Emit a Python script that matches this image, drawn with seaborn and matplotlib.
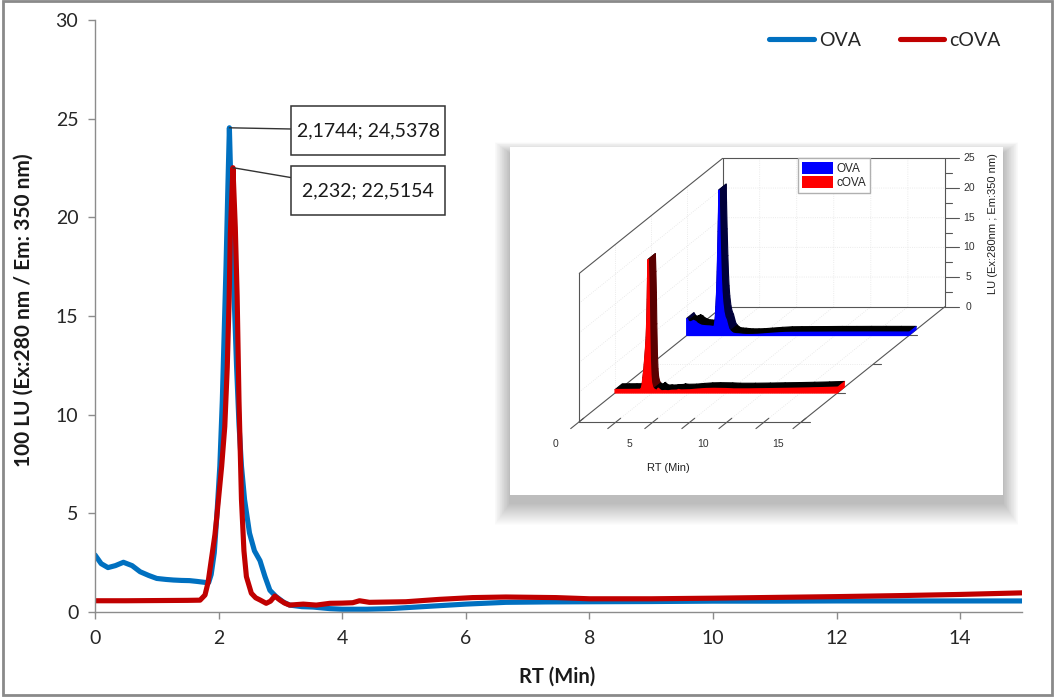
import numpy as np
import pandas as pd
import matplotlib
matplotlib.use("Agg")
import matplotlib.pyplot as plt
import seaborn as sns
from matplotlib.patches import Rectangle, Patch, Polygon
from matplotlib.collections import PolyCollection
from matplotlib.path import Path

# ---------------- data ----------------
rt_ova = [0.0, 0.1, 0.21, 0.33, 0.46, 0.6, 0.73, 0.87, 1.0, 1.15, 1.27, 1.4, 1.53, 1.65,
          1.78, 1.84, 1.88, 1.93, 1.97, 2.02, 2.06, 2.09, 2.12, 2.15, 2.1744, 2.2, 2.24,
          2.29, 2.33, 2.37, 2.42, 2.5, 2.58, 2.67, 2.75, 2.83, 2.93, 3.05, 3.15, 3.35,
          3.53, 3.8, 4.0, 4.4, 4.77, 5.3, 6.0, 6.65, 7.3, 8.0, 9.0, 10.0, 11.0, 12.0,
          13.0, 14.0, 15.0]
lu_ova = [2.89, 2.45, 2.25, 2.35, 2.52, 2.35, 2.04, 1.85, 1.7, 1.65, 1.62, 1.6, 1.59, 1.55,
          1.5, 1.5, 1.9, 3.0, 4.8, 7.4, 10.7, 14.1, 17.5, 21.5, 24.5378, 21.5, 17.0,
          12.5, 9.5, 7.4, 5.7, 4.0, 3.1, 2.6, 1.8, 1.1, 0.78, 0.5, 0.35, 0.27,
          0.25, 0.17, 0.14, 0.14, 0.17, 0.27, 0.4, 0.49, 0.51, 0.52, 0.53, 0.55, 0.55, 0.56,
          0.56, 0.56, 0.56]

rt_cova = [0.0, 0.5, 1.0, 1.5, 1.7, 1.78, 1.83, 1.88, 1.94, 1.97, 2.05, 2.1, 2.14, 2.17,
           2.19, 2.232, 2.27, 2.3, 2.33, 2.37, 2.41, 2.45, 2.53, 2.6, 2.67, 2.77, 2.84,
           2.91, 2.99, 3.07, 3.15, 3.37, 3.58, 3.8, 4.0, 4.17, 4.28, 4.44, 5.03, 5.57,
           6.11, 6.65, 7.46, 8.0, 9.0, 10.0, 11.0, 12.0, 13.0, 14.0, 15.0]
lu_cova = [0.57, 0.57, 0.58, 0.59, 0.6, 0.86, 1.5, 2.6, 3.9, 4.8, 7.4, 9.4, 12.4, 15.8,
           19.2, 22.5154, 19.5, 16.0, 10.7, 5.7, 3.1, 1.79, 0.95, 0.72, 0.61, 0.44, 0.55,
           0.81, 0.61, 0.45, 0.35, 0.4, 0.35, 0.44, 0.45, 0.47, 0.57, 0.49, 0.52, 0.64,
           0.73, 0.76, 0.73, 0.67, 0.67, 0.7, 0.74, 0.78, 0.83, 0.89, 0.97]

series_names = ["OVA", "cOVA"]
peak_labels = ["2,1744; 24,5378", "2,232; 22,5154"]
x_ticks = [0, 2, 4, 6, 8, 10, 12, 14]
y_ticks = [0, 5, 10, 15, 20, 25, 30]
inset_x_labels = [0, 5, 10, 15]
inset_z_ticks = [0, 5, 10, 15, 20, 25]

C_OVA = "#0070C0"
C_COVA = "#C00000"

# ---------------- figure ----------------
sns.set_theme(style="white")
plt.rcParams["font.family"] = ["Lato", "DejaVu Sans"]

W, H = 1055, 700
fig = plt.figure(figsize=(W / 100, H / 100), dpi=100)
fig.patch.set_facecolor("white")

ax = fig.add_axes([95 / W, 1 - 612 / H, (1022 - 95) / W, (612 - 20) / H])
df_o = pd.DataFrame({"RT": rt_ova, "LU": lu_ova})
df_c = pd.DataFrame({"RT": rt_cova, "LU": lu_cova})
sns.lineplot(data=df_o, x="RT", y="LU", ax=ax, color=C_OVA, lw=3.7, label=series_names[0],
             sort=False, solid_capstyle="round", solid_joinstyle="round")
sns.lineplot(data=df_c, x="RT", y="LU", ax=ax, color=C_COVA, lw=3.7, label=series_names[1],
             sort=False, solid_capstyle="round", solid_joinstyle="round")

ax.set_xlim(0, 15)
ax.set_ylim(0, 30)
ax.set_xticks(x_ticks)
ax.set_yticks(y_ticks)
for s in ["top", "right"]:
    ax.spines[s].set_visible(False)
for s in ["left", "bottom"]:
    ax.spines[s].set_color("#8c8c8c")
    ax.spines[s].set_linewidth(1.0)
ax.tick_params(axis="both", which="major", direction="out", length=5, width=1,
               color="#8c8c8c", labelsize=14, labelcolor="#262626", left=True, bottom=True)
ax.tick_params(axis="x", pad=8)
ax.tick_params(axis="y", pad=7)
ax.set_xlabel("RT (Min)", fontsize=14.5, fontweight="bold", color="#1a1a1a")
ax.set_ylabel("100 LU (Ex:280 nm / Em: 350 nm)", fontsize=15, fontweight="bold", color="#1a1a1a")
ax.xaxis.set_label_coords(0.498, -0.093)
ax.yaxis.set_label_coords(-0.066, 0.51)

leg = ax.legend(loc="center", bbox_to_anchor=((885 - 95) / 927, (612 - 40) / 592), ncol=2,
                frameon=False, fontsize=14, handlelength=2.3, handletextpad=0.25,
                columnspacing=2.0)
for t in leg.get_texts():
    t.set_color("#262626")


# fixed-size label box (like the spreadsheet data-label boxes)
def label_box(x0, y0, width, height, mutation_size):
    cx, cy = x0 + width / 2, y0 + height / 2
    bw, bh = 154, 49
    l, r, b, t = cx - bw / 2, cx + bw / 2, cy - bh / 2, cy + bh / 2
    return Path([(l, b), (r, b), (r, t), (l, t), (l, b)], closed=True)


i_o = int(np.argmax(lu_ova))
i_c = int(np.argmax(lu_cova))
box = dict(boxstyle=label_box, fc="white", ec="#333333", lw=1.1)
ax.annotate(peak_labels[0], xy=(rt_ova[i_o], lu_ova[i_o]), xytext=(4.42, 24.4),
            textcoords="data", fontsize=14, color="#1a1a1a", ha="center", va="center", bbox=box,
            arrowprops=dict(arrowstyle="-", color="#333333", lw=1.0, shrinkA=0, shrinkB=0),
            zorder=5)
ax.annotate(peak_labels[1], xy=(rt_cova[i_c], lu_cova[i_c]), xytext=(4.42, 21.35),
            textcoords="data", fontsize=14, color="#1a1a1a", ha="center", va="center", bbox=box,
            arrowprops=dict(arrowstyle="-", color="#333333", lw=1.0, shrinkA=0, shrinkB=0),
            zorder=5)

# ---------------- inset shadow ----------------
L, T, R, B = 510, 147, 1003, 495
for k in range(22, 0, -1):
    fig.patches.append(Rectangle(((L - k * 0.7) / W, 1 - (B + 8 + k) / H), (R - L + 1.4 * k) / W,
                                 (B - T + 2 + 1.5 * k) / H, transform=fig.transFigure,
                                 fc="black", ec="none", alpha=0.013, zorder=1))

# ---------------- inset (waterfall / ribbon view) ----------------
ax_in = fig.add_axes([L / W, 1 - B / H, (R - L) / W, (B - T) / H], zorder=3)
ax_in.set_facecolor("white")
ax_in.set_xlim(L, R)
ax_in.set_ylim(B, T)
ax_in.set_xticks([])
ax_in.set_yticks([])
for s in ax_in.spines.values():
    s.set_visible(False)

X0, Y0 = 579.3, 421.7
SX, SZ = 14.82, 5.933
DX, DY = 143.3, -115.0
XMAX, ZMAX = 15.0, 25.0


def P(x, d, z):
    x = np.asarray(x, float)
    z = np.asarray(z, float)
    return X0 + SX * x + DX * d, Y0 + DY * d - SZ * z


box_kw = dict(color="#555555", lw=0.8, zorder=2)
grid_kw = dict(color="#e4e4e4", lw=0.6, ls=":", zorder=1)

for zt in np.arange(5, 25, 5):
    a, b = P(0, 0, zt); c, e = P(0, 1, zt); f, g = P(XMAX, 1, zt)
    ax_in.plot([a, c, f], [b, e, g], **grid_kw)
for xt in np.arange(2.5, 15, 2.5):
    a, b = P(xt, 0, 0); c, e = P(xt, 1, 0); f, g = P(xt, 1, ZMAX)
    ax_in.plot([a, c, f], [b, e, g], **grid_kw)
for dt in [0.25, 0.5, 0.75]:
    a, b = P(0, dt, ZMAX); c, e = P(0, dt, 0); f, g = P(XMAX, dt, 0)
    ax_in.plot([a, c, f], [b, e, g], **grid_kw)

edges = [((0, 0, 0), (0, 0, ZMAX)), ((0, 0, ZMAX), (0, 1, ZMAX)), ((0, 1, 0), (0, 1, ZMAX)),
         ((0, 0, 0), (0, 1, 0)), ((0, 1, ZMAX), (XMAX, 1, ZMAX)),
         ((XMAX, 1, 0), (XMAX, 1, ZMAX)), ((0, 1, 0), (XMAX, 1, 0)),
         ((XMAX, 0, 0), (XMAX, 1, 0)), ((0, 0, 0), (XMAX + 0.6, 0, 0))]
for p1, p2 in edges:
    a, b = P(p1[0], p1[1], p1[2]); c, e = P(p2[0], p2[1], p2[2])
    ax_in.plot([a, c], [b, e], **box_kw)

for xt in np.arange(0, 15.01, 2.5):
    a, b = P(xt, -0.06, 0); c, e = P(xt, 0.03, 0)
    ax_in.plot([a, c], [b, e], **box_kw)
for xl in inset_x_labels:
    a, b = P(xl, 0, 0)
    ax_in.text(a - 24, b + 22, str(xl), fontsize=7.5, ha="center", va="center",
               color="#333333", family=["Liberation Sans", "DejaVu Sans"])
ax_in.text(668, 468, "RT (Min)", fontsize=8, ha="center", va="center", color="#222222",
           family=["Liberation Sans", "DejaVu Sans"])
for dt in [0.25, 0.5, 0.75]:
    a, b = P(XMAX, dt, 0)
    ax_in.plot([a, a + 8], [b, b], **box_kw)
for zt in np.arange(0, 25.01, 2.5):
    a, b = P(XMAX, 1, zt)
    ln = 14 if zt % 5 == 0 else 7
    ax_in.plot([a, a + ln], [b, b], **box_kw)
for zt in inset_z_ticks:
    a, b = P(XMAX, 1, zt)
    ax_in.text(a + 24, b, str(zt), fontsize=7.5, ha="center", va="center", color="#333333",
               family=["Liberation Sans", "DejaVu Sans"])
ax_in.text(993, 224, "LU (Ex:280nm ; Em:350 nm)", rotation=90, fontsize=8, ha="center",
           va="center", color="#222222", family=["Liberation Sans", "DejaVu Sans"])

ribbons = [(rt_ova, lu_ova, 0.75, "#0000FF", "#00003a"),
           (rt_cova, lu_cova, 0.25, "#FF0000", "#5a0000")]
w = 0.05
for xs_, zs_, d, col, dark in ribbons:
    xs_ = np.asarray(xs_, float)
    zs_ = np.asarray(zs_, float)
    fx, fy = P(xs_, d, zs_)
    bx, by = P(xs_, d + w, zs_)
    quads, cols = [], []
    for i in range(len(xs_) - 1):
        quads.append([(fx[i], fy[i]), (fx[i + 1], fy[i + 1]), (bx[i + 1], by[i + 1]), (bx[i], by[i])])
        slope = (zs_[i + 1] - zs_[i]) / (xs_[i + 1] - xs_[i])
        cols.append(dark if slope < -3 else "black")
    ax_in.add_collection(PolyCollection(quads, facecolors=cols, edgecolors=cols, lw=0.8, zorder=4))
    ex0, ey0 = P(xs_[-1], d, 0); ex1, ey1 = P(xs_[-1], d + w, 0)
    ax_in.add_patch(Polygon([(ex0, ey0), (fx[-1], fy[-1]), (bx[-1], by[-1]), (ex1, ey1)],
                            closed=True, fc=col, ec=col, lw=0.5, zorder=4))
    bx0, by0 = P(xs_[0], d, 0); bx1, by1 = P(xs_[-1], d, 0)
    face = np.column_stack([np.r_[fx, bx1, bx0], np.r_[fy, by1, by0]])
    ax_in.add_patch(Polygon(face, closed=True, fc=col, ec=col, lw=1.0, zorder=5))

ax_in.legend(handles=[Patch(fc="#0000FF", ec="none", label=series_names[0]),
                      Patch(fc="#FF0000", ec="none", label=series_names[1])],
             loc="upper left", bbox_to_anchor=((798 - L) / (R - L), (B - 158) / (B - T)),
             frameon=True, fancybox=False, edgecolor="#b0b0b0", framealpha=1,
             borderpad=0.3, handlelength=2.7, handleheight=1.2, handletextpad=0.3,
             labelspacing=0.15, borderaxespad=0, prop={"family": ["Liberation Sans"], "size": 8.5})

fig.patches.append(Rectangle((3 / W, 1 - 695 / H), (1052 - 3) / W, (695 - 1) / H,
                             transform=fig.transFigure, fill=False, ec="#8a8a8a", lw=2, zorder=10))

fig.savefig("out.png", dpi=100, facecolor="white")
